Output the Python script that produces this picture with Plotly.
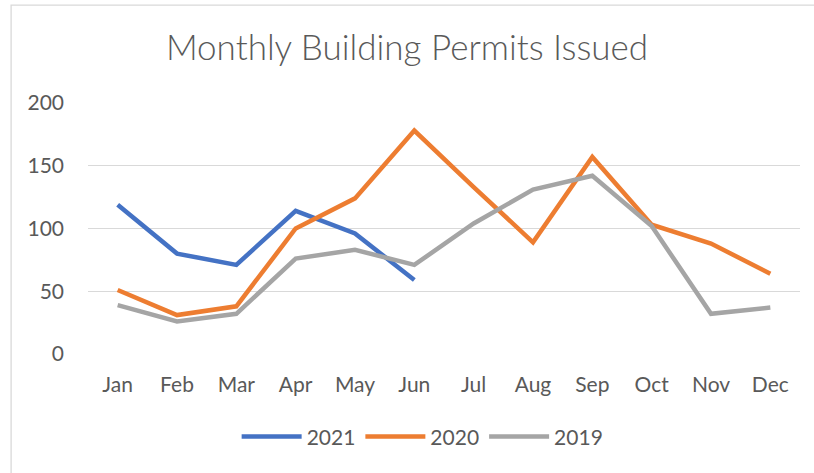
import plotly.graph_objects as go

months = ["Jan", "Feb", "Mar", "Apr", "May", "Jun", "Jul", "Aug", "Sep", "Oct", "Nov", "Dec"]
permits_2021 = [119, 80, 71, 114, 96, 59]
permits_2020 = [51, 31, 38, 100, 124, 178, 133, 89, 157, 103, 88, 64]
permits_2019 = [39, 26, 32, 76, 83, 71, 104, 131, 142, 102, 32, 37]
y_ticks = [0, 50, 100, 150, 200]

TEXT = "#595959"
FONT = "Lato"

fig = go.Figure()
for name, vals, color in [
    ("2021", permits_2021, "#4472C4"),
    ("2020", permits_2020, "#ED7D31"),
    ("2019", permits_2019, "#A5A5A5"),
]:
    fig.add_trace(go.Scatter(
        x=months[:len(vals)], y=vals, name=name, mode="lines",
        line=dict(color=color, width=4.5),
    ))

fig.update_layout(
    width=814, height=473,
    margin=dict(l=88, r=14, t=103, b=119),
    paper_bgcolor="white", plot_bgcolor="white",
    title=dict(text="Monthly Building Permits Issued", x=0.5, xanchor="center",
               y=1 - 48 / 473, yanchor="middle",
               font=dict(family=FONT, size=35, color=TEXT, weight=300)),
    font=dict(family=FONT, size=21, color=TEXT),
    showlegend=True,
    legend=dict(orientation="h", x=0.47, xanchor="center", y=-0.33, yanchor="middle",
                font=dict(size=21, color=TEXT), itemwidth=60),
    xaxis=dict(type="category", range=[-0.5, 11.5], showgrid=False, showline=False,
               ticks="", ticklabelstandoff=16, tickfont=dict(size=21, color=TEXT)),
    yaxis=dict(range=[0, 200], tickvals=y_ticks, showgrid=True, gridcolor="#D9D9D9",
               gridwidth=1.3, zeroline=False, showline=False, ticks="",
               ticklabelstandoff=23, tickfont=dict(size=21, color=TEXT)),
    shapes=[dict(type="rect", xref="paper", yref="paper",
                 x0=-0.108, x1=1.05, y0=-0.5, y1=1.39,
                 line=dict(color="#D9D9D9", width=1.3), layer="below")],
)

fig.write_html("out.html", config={"displayModeBar": False},
               post_script="document.body.style.margin='0';document.body.style.overflow='hidden';")
